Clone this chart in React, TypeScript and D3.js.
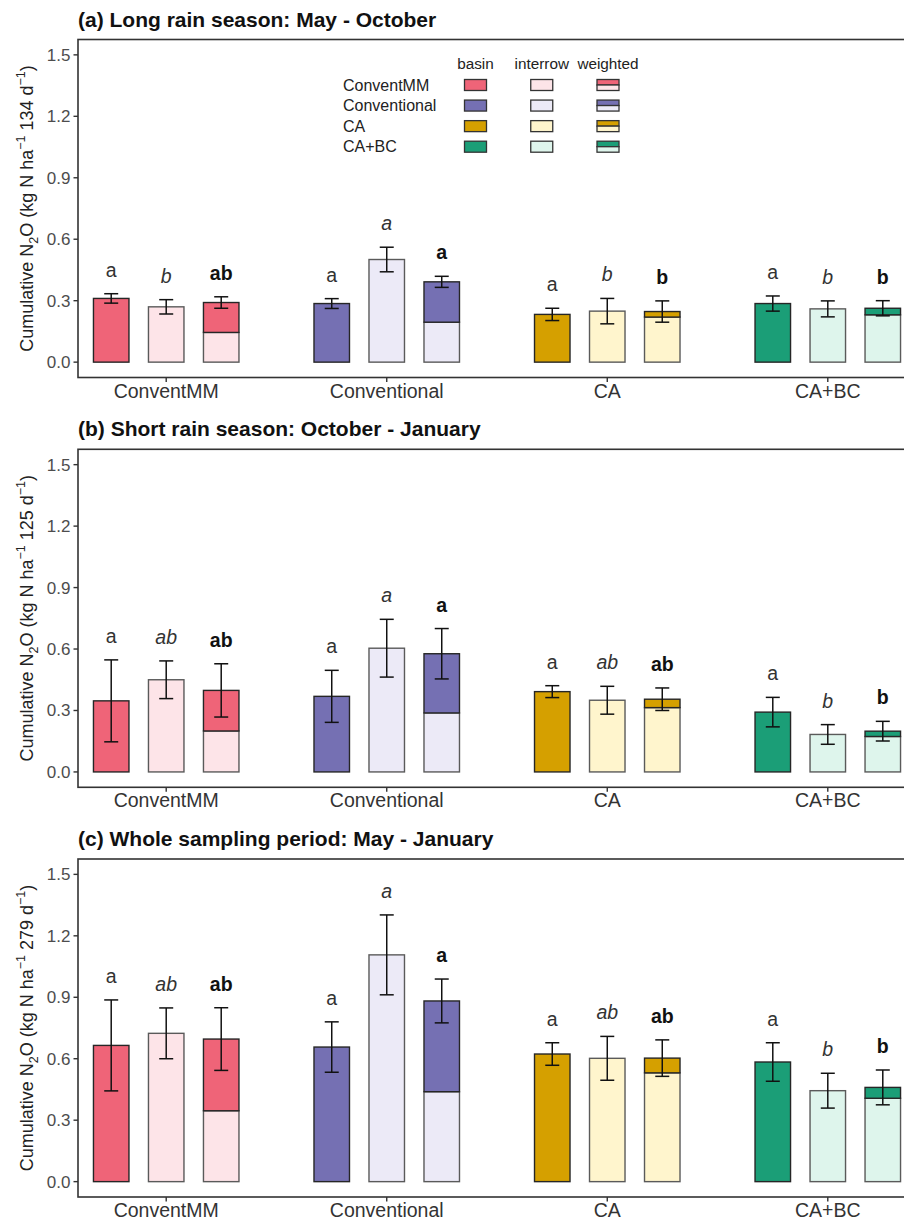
import React from "react";
import * as d3 from "d3";

const categories = ["ConventMM", "Conventional", "CA", "CA+BC"];
const parts = ["basin", "interrow", "weighted"];
const yTicks = [0, 0.3, 0.6, 0.9, 1.2, 1.5];

const basinFill = ["#EF6478", "#7570B3", "#D5A000", "#1B9E77"];
const interrowFill = ["#FDE4E8", "#ECEAF7", "#FFF5CD", "#DEF5EC"];

const panelTitles = [
  "(a) Long rain season: May - October",
  "(b) Short rain season: October - January",
  "(c) Whole sampling period: May - January",
];
const panelDays = ["134", "125", "279"];

// Panel a
const basinA = [0.311, 0.286, 0.233, 0.286];
const basinSeA = [0.023, 0.024, 0.03, 0.037];
const interrowA = [0.27, 0.501, 0.249, 0.26];
const interrowSeA = [0.035, 0.06, 0.062, 0.039];
const weightedA = [0.291, 0.392, 0.247, 0.263];
const weightedSeA = [0.028, 0.027, 0.052, 0.037];
const weightedInterrowA = [0.145, 0.195, 0.22, 0.231];
const lettersBasinA = ["a", "a", "a", "a"];
const lettersInterrowA = ["b", "a", "b", "b"];
const lettersWeightedA = ["ab", "a", "b", "b"];

// Panel b
const basinB = [0.347, 0.369, 0.392, 0.292];
const basinSeB = [0.2, 0.127, 0.029, 0.072];
const interrowB = [0.45, 0.604, 0.35, 0.183];
const interrowSeB = [0.092, 0.141, 0.068, 0.048];
const weightedB = [0.398, 0.577, 0.355, 0.199];
const weightedSeB = [0.13, 0.123, 0.055, 0.048];
const weightedInterrowB = [0.2, 0.288, 0.314, 0.173];
const lettersBasinB = ["a", "a", "a", "a"];
const lettersInterrowB = ["ab", "a", "ab", "b"];
const lettersWeightedB = ["ab", "a", "ab", "b"];

// Panel c
const basinC = [0.665, 0.657, 0.623, 0.584];
const basinSeC = [0.222, 0.123, 0.055, 0.094];
const interrowC = [0.724, 1.107, 0.602, 0.444];
const interrowSeC = [0.124, 0.195, 0.107, 0.085];
const weightedC = [0.696, 0.882, 0.603, 0.46];
const weightedSeC = [0.153, 0.107, 0.089, 0.085];
const weightedInterrowC = [0.346, 0.439, 0.531, 0.407];
const lettersBasinC = ["a", "a", "a", "a"];
const lettersInterrowC = ["ab", "a", "ab", "b"];
const lettersWeightedC = ["ab", "a", "ab", "b"];

const panels = [
  { basin: basinA, basinSe: basinSeA, interrow: interrowA, interrowSe: interrowSeA, weighted: weightedA, weightedSe: weightedSeA, wInter: weightedInterrowA, lb: lettersBasinA, li: lettersInterrowA, lw: lettersWeightedA },
  { basin: basinB, basinSe: basinSeB, interrow: interrowB, interrowSe: interrowSeB, weighted: weightedB, weightedSe: weightedSeB, wInter: weightedInterrowB, lb: lettersBasinB, li: lettersInterrowB, lw: lettersWeightedB },
  { basin: basinC, basinSe: basinSeC, interrow: interrowC, interrowSe: interrowSeC, weighted: weightedC, weightedSe: weightedSeC, wInter: weightedInterrowC, lb: lettersBasinC, li: lettersInterrowC, lw: lettersWeightedC },
];

const FONT = "'Liberation Sans', Arial, Helvetica, sans-serif";
const W = 904;
const H = 1222;
const boxLeft = 78;
const boxRight = 916;
const boxH = 338;
const panelTops = [39.5, 449.3, 859];
const barW = 35.5;

function Panel({ idx }: { idx: number }) {
  const p = panels[idx];
  const top = panelTops[idx];
  const bottom = top + boxH;
  const y = d3.scaleLinear().domain([-0.075, 1.575]).range([bottom, top]);
  const x = d3.scalePoint().domain(categories).range([boxLeft, boxRight]).padding(0.4);
  const sub = d3.scalePoint().domain(parts).range([-55, 55]);

  const items: any[] = [];
  categories.forEach((c, i) => {
    const cx = x(c)!;
    const xb = cx + sub("basin")!;
    const xi = cx + sub("interrow")!;
    const xw = cx + sub("weighted")!;
    // basin
    items.push(
      <rect key={`b${i}`} x={xb - barW / 2} y={y(p.basin[i])} width={barW} height={y(0) - y(p.basin[i])}
        fill={basinFill[i]} stroke="#262626" strokeWidth={1.4} />
    );
    // interrow
    items.push(
      <rect key={`i${i}`} x={xi - barW / 2} y={y(p.interrow[i])} width={barW} height={y(0) - y(p.interrow[i])}
        fill={interrowFill[i]} stroke="#5a5a5a" strokeWidth={1.4} />
    );
    // weighted: lower interrow part, upper basin part
    items.push(
      <rect key={`wl${i}`} x={xw - barW / 2} y={y(p.wInter[i])} width={barW} height={y(0) - y(p.wInter[i])}
        fill={interrowFill[i]} stroke="#5a5a5a" strokeWidth={1.4} />
    );
    items.push(
      <rect key={`wu${i}`} x={xw - barW / 2} y={y(p.weighted[i])} width={barW} height={y(p.wInter[i]) - y(p.weighted[i])}
        fill={basinFill[i]} stroke="#262626" strokeWidth={1.4} />
    );
    const errs = [
      [xb, p.basin[i], p.basinSe[i], p.lb[i], "normal", "normal"],
      [xi, p.interrow[i], p.interrowSe[i], p.li[i], "italic", "normal"],
      [xw, p.weighted[i], p.weightedSe[i], p.lw[i], "normal", "bold"],
    ] as any[];
    errs.forEach(([ex, m, se, lab, fs, fw], k) => {
      const y1 = y(m + se);
      const y0 = y(m - se);
      items.push(
        <g key={`e${i}-${k}`} stroke="#111" strokeWidth={1.5}>
          <line x1={ex} x2={ex} y1={y1} y2={y0} />
          <line x1={ex - 7} x2={ex + 7} y1={y1} y2={y1} />
          <line x1={ex - 7} x2={ex + 7} y1={y0} y2={y0} />
        </g>
      );
      items.push(
        <text key={`l${i}-${k}`} x={ex} y={y1 - 17} textAnchor="middle" fontSize={19.5}
          fontStyle={fs} fontWeight={fw} fill={fw === "bold" ? "#111" : "#333"}>
          {lab}
        </text>
      );
    });
  });

  const ymid = (top + bottom) / 2;

  return (
    <g fontFamily={FONT}>
      <text x={boxLeft} y={top - 13} fontSize={21} fontWeight="bold" fill="#111">
        {panelTitles[idx]}
      </text>
      <rect x={boxLeft} y={top} width={boxRight - boxLeft} height={boxH} fill="white" stroke="#333" strokeWidth={1.6} />
      {yTicks.map((t) => (
        <g key={t}>
          <line x1={boxLeft - 4.5} x2={boxLeft} y1={y(t)} y2={y(t)} stroke="#333" strokeWidth={1.4} />
          <text x={boxLeft - 7.5} y={y(t) + 6} textAnchor="end" fontSize={17} fill="#4d4d4d">
            {d3.format(".1f")(t)}
          </text>
        </g>
      ))}
      {categories.map((c) => (
        <g key={c}>
          <line x1={x(c)!} x2={x(c)!} y1={bottom} y2={bottom + 4.5} stroke="#333" strokeWidth={1.4} />
          <text x={x(c)!} y={bottom + 20} textAnchor="middle" fontSize={19.5} fill="#333">
            {c}
          </text>
        </g>
      ))}
      {items}
      <text transform={`translate(33,${ymid}) rotate(-90)`} textAnchor="middle" fontSize={18} fill="#222">
        Cumulative N
        <tspan fontSize={12.5} dy={5}>2</tspan>
        <tspan dy={-5}>O (kg N ha</tspan>
        <tspan fontSize={12.5} dy={-8}>−1</tspan>
        <tspan dy={8}> {panelDays[idx]} d</tspan>
        <tspan fontSize={12.5} dy={-8}>−1</tspan>
        <tspan dy={8}>)</tspan>
      </text>
    </g>
  );
}

function Legend() {
  const rowY = d3.scalePoint().domain(categories).range([85, 146.7]);
  const colX = d3.scalePoint().domain(parts).range([475.5, 608]);
  const kw = 22;
  const kh = 11;
  return (
    <g fontFamily={FONT}>
      {parts.map((pt) => (
        <text key={pt} x={colX(pt)!} y={68.5} textAnchor="middle" fontSize={15.3} fill="#222">
          {pt}
        </text>
      ))}
      {categories.map((c, i) => {
        const ry = rowY(c)!;
        return (
          <g key={c}>
            <text x={343} y={ry + 5.5} fontSize={16} fill="#222">{c}</text>
            <rect x={colX("basin")! - kw / 2} y={ry - kh / 2} width={kw} height={kh} fill={basinFill[i]} stroke="#333" strokeWidth={1.3} />
            <rect x={colX("interrow")! - kw / 2} y={ry - kh / 2} width={kw} height={kh} fill={interrowFill[i]} stroke="#333" strokeWidth={1.3} />
            <rect x={colX("weighted")! - kw / 2} y={ry - kh / 2} width={kw} height={kh / 2} fill={basinFill[i]} stroke="#333" strokeWidth={1.3} />
            <rect x={colX("weighted")! - kw / 2} y={ry} width={kw} height={kh / 2} fill={interrowFill[i]} stroke="#333" strokeWidth={1.3} />
          </g>
        );
      })}
    </g>
  );
}

export default function App() {
  return (
    <svg width={W} height={H} viewBox={`0 0 ${W} ${H}`} style={{ position: "absolute", left: 0, top: 0, background: "white" }}>
      <rect x={0} y={0} width={W} height={H} fill="white" />
      {[0, 1, 2].map((i) => (
        <Panel key={i} idx={i} />
      ))}
      <Legend />
    </svg>
  );
}
